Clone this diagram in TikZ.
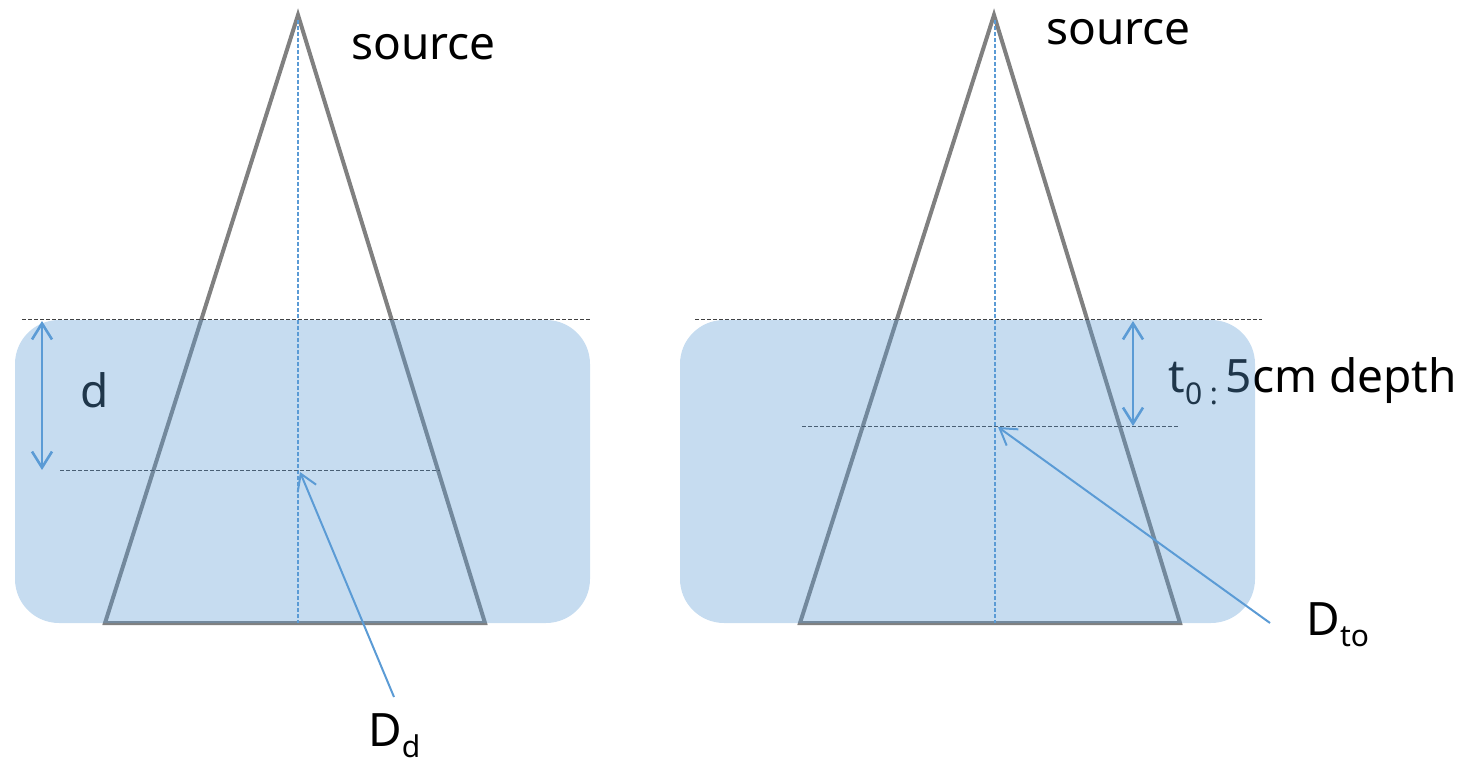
\documentclass[tikz,border=0pt]{standalone}
\usepackage{fontspec}
\setmainfont{Noto Sans}
\usetikzlibrary{arrows.meta}
\definecolor{boxblue}{HTML}{5B9BD5}
\definecolor{cone}{HTML}{808080}
\definecolor{dash}{HTML}{404040}
\newcommand{\mysub}[1]{\raisebox{-0.25em}{\fontsize{15pt}{17pt}\selectfont #1}}
\tikzset{
  conestyle/.style={draw=cone, line width=2pt, line join=miter},
  axis/.style={draw=boxblue, line width=0.7pt, dash pattern=on 2pt off 1pt},
  level/.style={draw=dash, line width=0.5pt, dash pattern=on 2pt off 1pt},
  arr/.style={draw=boxblue, line width=1.3pt, {Straight Barb[length=8pt,width=10pt]}-{Straight Barb[length=8pt,width=10pt]}},
  ptr/.style={draw=boxblue, line width=1pt, -{Straight Barb[length=8pt,width=10pt]}},
  phantom/.style={fill=boxblue, fill opacity=0.35, rounded corners=22pt},
  lbl/.style={font=\fontsize{23pt}{27pt}\selectfont, inner sep=0pt, text=black}
}
\begin{document}
\begin{tikzpicture}[x=0.5pt,y=-0.5pt]
\useasboundingbox (0,0) rectangle (1476,769);
% ---------- left ----------
\coordinate (LA) at (298,15);
\coordinate (LB1) at (105,623);
\coordinate (LB2) at (485,623);
\draw[conestyle] (LB1) -- (LA) -- (LB2) -- cycle;
\coordinate (LAx1) at (298,20);
\coordinate (LAx2) at (298,623);
\draw[axis] (LAx1) -- (LAx2);
\coordinate (LS1) at (22,320);
\coordinate (LS2) at (590,320);
\draw[level] (LS1) -- (LS2);
\coordinate (LD1) at (60,471);
\coordinate (LD2) at (440,471);
\draw[level] (LD1) -- (LD2);
\coordinate (La1) at (42,321);
\coordinate (La2) at (42,470);
\draw[arr] (La1) -- (La2);
\coordinate (Lp1) at (394,697);
\coordinate (Lp2) at (300,472);
\draw[ptr] (Lp1) -- (Lp2);
\node[lbl, anchor=base west] (srcL) at (351,60) {source};
\node[lbl, anchor=base west] (dL) at (80,408) {d};
\node[lbl, anchor=base west] (DdL) at (368,746) {D\mysub{d}};
% ---------- right ----------
\coordinate (RA) at (994,15);
\coordinate (RB1) at (800,623);
\coordinate (RB2) at (1180,623);
\draw[conestyle] (RB1) -- (RA) -- (RB2) -- cycle;
\coordinate (RAx1) at (995,20);
\coordinate (RAx2) at (995,623);
\draw[axis] (RAx1) -- (RAx2);
\coordinate (RS1) at (695,320);
\coordinate (RS2) at (1262,320);
\draw[level] (RS1) -- (RS2);
\coordinate (RD1) at (802,427);
\coordinate (RD2) at (1178,427);
\draw[level] (RD1) -- (RD2);
\coordinate (Ra1) at (1133,321);
\coordinate (Ra2) at (1133,426);
\draw[arr] (Ra1) -- (Ra2);
\coordinate (Rp1) at (1270,623);
\coordinate (Rp2) at (998,427);
\draw[ptr] (Rp1) -- (Rp2);
\node[lbl, anchor=base west] (srcR) at (1046,45) {source};
\node[lbl, anchor=base west] (tR) at (1168,393) {t\mysub{0\ :\ }5cm depth};
\node[lbl, anchor=base west] (DtoR) at (1306,635) {D\mysub{to}};
% ---------- water phantoms ----------
\path[phantom] (15,320) rectangle (590,623);
\path[phantom] (680,320) rectangle (1255,623);
\end{tikzpicture}
\end{document}
